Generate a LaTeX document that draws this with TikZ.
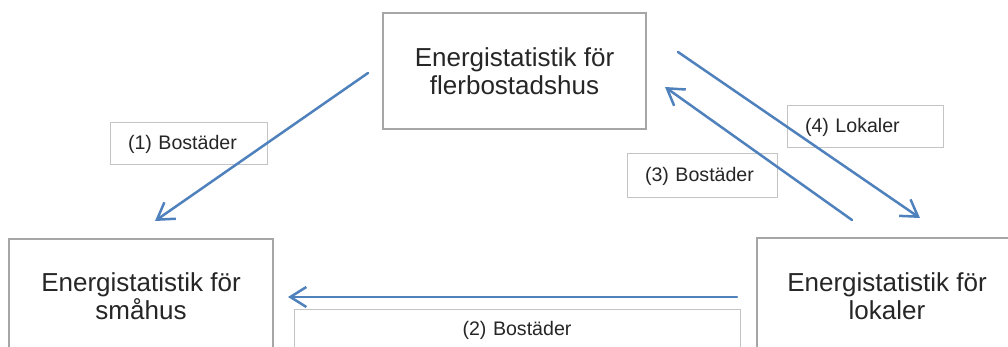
\documentclass[tikz,border=0pt]{standalone}
\usepackage{fontspec}
\setmainfont{Liberation Sans}
\usepackage{xcolor}
\usetikzlibrary{arrows.meta, positioning}
\definecolor{flowblue}{HTML}{4F81BD}
\definecolor{boxgray}{HTML}{A6A6A6}
\definecolor{labelgray}{HTML}{C4C4C4}
\tikzset{statbox/.style = {draw=boxgray, line width=1pt, fill=white, align=center, text=black!85, font=\fontsize{13}{14}\selectfont}}
\tikzset{flowlabel/.style = {draw=labelgray, line width=0.5pt, fill=white, text=black!85, inner xsep=9pt, align=left, font=\fontsize{9.8}{11}\selectfont}}
\tikzset{flow/.style = {flowblue, line width=1.25pt, line cap=round}}
\newcommand{\flowArrow}{{Straight Barb[length=8pt, width=10pt]}}

\begin{document}
\begin{tikzpicture}[x=0.5pt, y=-0.5pt]
	\useasboundingbox (0,0) rectangle (1008,347);

	\node[statbox, minimum width=131.5pt, minimum height=58pt] (flerbo) at (514.5,71) {Energistatistik för\\flerbostadshus};
	\node[statbox, minimum width=132pt, minimum height=57pt] (smahus) at (141,296) {Energistatistik för\\småhus};
	\node[statbox, minimum width=130pt, minimum height=58pt] (lokaler) at (887,296) {Energistatistik för\\lokaler};

	\node[flowlabel, text width=60.5pt, minimum height=21pt] (lab1) at (188.5,144) {(1) Bostäder};
	\node[flowlabel, text width=205pt, minimum height=20pt, align=center] (lab2) at (517,330) {(2) Bostäder};
	\node[flowlabel, text width=57pt, minimum height=22pt] (lab3) at (702,176) {(3) Bostäder};
	\node[flowlabel, text width=60pt, minimum height=21pt] (lab4) at (865,127) {(4) Lokaler};

	\coordinate (b1s) at (368,73);	\coordinate (b1e) at (155,221);
	\coordinate (b2s) at (737,297);	\coordinate (b2e) at (288,297);
	\coordinate (b3s) at (852,220);	\coordinate (b3e) at (665,87);
	\coordinate (l4s) at (678,52);	\coordinate (l4e) at (920,218);

	\draw[flow, -\flowArrow]	(b1s) -- (b1e);
	\draw[flow, -\flowArrow]	(b2s) -- (b2e);
	\draw[flow, -\flowArrow]	(b3s) -- (b3e);
	\draw[flow, -\flowArrow]	(l4s) -- (l4e);
\end{tikzpicture}
\end{document}
